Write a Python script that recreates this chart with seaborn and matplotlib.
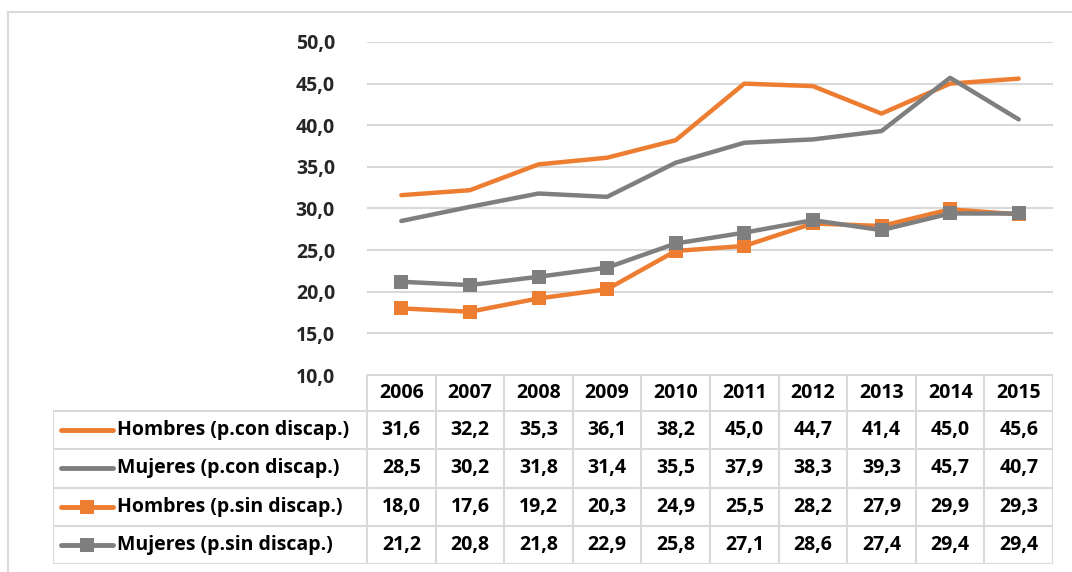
import numpy as np
import pandas as pd
import matplotlib
matplotlib.use("Agg")
import matplotlib.pyplot as plt
import seaborn as sns

years = ["2006", "2007", "2008", "2009", "2010", "2011", "2012", "2013", "2014", "2015"]
series_names = ["Hombres (p.con discap.)", "Mujeres (p.con discap.)",
                "Hombres (p.sin discap.)", "Mujeres (p.sin discap.)"]
hombres_con = [31.6, 32.2, 35.3, 36.1, 38.2, 45.0, 44.7, 41.4, 45.0, 45.6]
mujeres_con = [28.5, 30.2, 31.8, 31.4, 35.5, 37.9, 38.3, 39.3, 45.7, 40.7]
hombres_sin = [18.0, 17.6, 19.2, 20.3, 24.9, 25.5, 28.2, 27.9, 29.9, 29.3]
mujeres_sin = [21.2, 20.8, 21.8, 22.9, 25.8, 27.1, 28.6, 27.4, 29.4, 29.4]
y_ticks = [10, 15, 20, 25, 30, 35, 40, 45, 50]

ORANGE = "#ED7D31"
GRAY = "#7F7F7F"
GRID = "#D9D9D9"
styles = [(ORANGE, None), (GRAY, None), (ORANGE, "s"), (GRAY, "s")]
values = [hombres_con, mujeres_con, hombres_sin, mujeres_sin]

sns.set_theme(style="white")
plt.rcParams["font.family"] = ["Open Sans", "DejaVu Sans"]
plt.rcParams["font.weight"] = "bold"
FS = 14

W, H = 1072, 572
fig = plt.figure(figsize=(W / 100, H / 100), dpi=100)

# pixel layout
x0, x1 = 367, 1053      # plot / year columns
y_top, y_bot = 42, 375  # 50 and 10
t_left, t_bot = 53, 564
col_w = (x1 - x0) / len(years)

ax = fig.add_axes([x0 / W, 1 - y_bot / H, (x1 - x0) / W, (y_bot - y_top) / H])
xs = np.arange(len(years))
for name, vals, (c, m) in zip(series_names, values, styles):
    sns.lineplot(x=xs, y=vals, ax=ax, color=c, linewidth=3.2, marker=m,
                 markersize=10.5, markeredgewidth=0, label=None)
ax.set_xlim(-0.5, len(years) - 0.5)
ax.set_ylim(10, 50)
ax.set_yticks(y_ticks)
ax.set_yticklabels([f"{v:.1f}".replace(".", ",") for v in y_ticks], fontsize=FS, fontweight="bold")
ax.set_xticks([])
ax.tick_params(axis="y", length=0, pad=23)
ax.yaxis.grid(True, color=GRID, linewidth=1.5)
ax.set_axisbelow(True)
for s in ax.spines.values():
    s.set_visible(False)
if ax.get_legend():
    ax.get_legend().remove()

# data table below the plot
tax = fig.add_axes([t_left / W, 1 - t_bot / H, (x1 - t_left) / W, (t_bot - y_bot) / H])
tax.set_xlim(t_left, x1)
tax.set_ylim(t_bot, y_bot)
tax.axis("off")
header_h = 36
row_h = (t_bot - y_bot - header_h) / len(series_names)
lk = dict(color=GRID, linewidth=1.5, solid_capstyle="butt")
# horizontal lines
tax.plot([x0, x1], [y_bot, y_bot], **lk)
for r in range(len(series_names) + 1):
    yy = y_bot + header_h + r * row_h
    tax.plot([t_left, x1], [yy, yy], **lk)
# vertical lines
tax.plot([t_left, t_left], [y_bot + header_h, t_bot], **lk)
for i in range(len(years) + 1):
    xx = x0 + i * col_w
    tax.plot([xx, xx], [y_bot, t_bot], **lk)

for i, yr in enumerate(years):
    tax.text(x0 + (i + 0.5) * col_w, y_bot + header_h / 2, yr, ha="center", va="center",
             fontsize=FS, fontweight="bold", color="black")

for r, (name, vals, (c, m)) in enumerate(zip(series_names, values, styles)):
    yc = y_bot + header_h + (r + 0.5) * row_h
    tax.plot([61, 113], [yc, yc], color=c, linewidth=3.5, solid_capstyle="round")
    if m:
        tax.plot([87], [yc], marker=m, color=c, markersize=10.5, markeredgewidth=0)
    tax.text(117, yc, name, ha="left", va="center", fontsize=FS, fontweight="bold", color="black")
    for i, v in enumerate(vals):
        tax.text(x0 + (i + 0.5) * col_w, yc, f"{v:.1f}".replace(".", ","), ha="center",
                 va="center", fontsize=FS, fontweight="bold", color="black")

# chart area border
fig.patches.append(plt.Rectangle((8 / W, -0.1), 2, 1 - 12 / H + 0.1, transform=fig.transFigure,
                                 fill=False, edgecolor=GRID, linewidth=1.5))

fig.savefig("out.png", dpi=100)
